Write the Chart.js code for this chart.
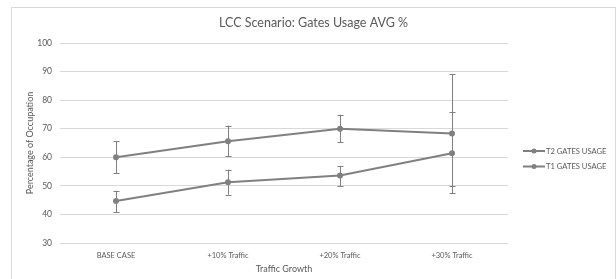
<!DOCTYPE html>
<html>
<head>
<meta charset="utf-8">
<script src="https://cdn.jsdelivr.net/npm/chart.js@4/dist/chart.umd.min.js"></script>
<style>
  html, body { margin: 0; padding: 0; background: #fff; overflow: hidden; }
  #frame { position: absolute; left: 11px; top: 7px; width: 603px; height: 290px; border: 1px solid #d9d9d9; background: #fff; }
  #c { display: block; }
</style>
</head>
<body>
<div id="frame"><canvas id="c" width="603" height="271"></canvas></div>
<script>
const categories = ["BASE CASE", "+10% Traffic", "+20% Traffic", "+30% Traffic"];
const t2Values = [60.0, 65.6, 70.0, 68.3];
const t2ErrPlus = [5.6, 5.5, 4.9, 20.9];
const t2ErrMinus = [5.5, 5.3, 4.7, 20.9];
const t1Values = [44.7, 51.3, 53.6, 61.4];
const t1ErrPlus = [3.6, 4.4, 3.4, 14.6];
const t1ErrMinus = [4.0, 4.4, 3.6, 11.3];
const seriesNames = ["T2 GATES USAGE", "T1 GATES USAGE"];
const yTicks = [30, 40, 50, 60, 70, 80, 90, 100];

const FONT = "Lato, 'Open Sans', sans-serif";
const LINE = "#808080";
const TEXT = "#595959";

const errorBarPlugin = {
  id: "errorBars",
  afterDatasetsDraw(chart) {
    const ctx = chart.ctx;
    const y = chart.scales.y;
    ctx.save();
    ctx.strokeStyle = LINE;
    ctx.lineWidth = 1;
    chart.data.datasets.forEach((ds, di) => {
      const meta = chart.getDatasetMeta(di);
      meta.data.forEach((pt, i) => {
        const v = ds.data[i];
        const top = y.getPixelForValue(v + ds.errPlus[i]);
        const bot = y.getPixelForValue(v - ds.errMinus[i]);
        const x = Math.round(pt.x) + 0.5;
        ctx.beginPath();
        ctx.moveTo(x, top); ctx.lineTo(x, bot);
        ctx.moveTo(x - 3, Math.round(top) + 0.5); ctx.lineTo(x + 3, Math.round(top) + 0.5);
        ctx.moveTo(x - 3, Math.round(bot) + 0.5); ctx.lineTo(x + 3, Math.round(bot) + 0.5);
        ctx.stroke();
      });
    });
    ctx.restore();
  }
};

const legendPlugin = {
  id: "sideLegend",
  afterDraw(chart) {
    const ctx = chart.ctx;
    const area = chart.chartArea;
    ctx.save();
    ctx.font = "7.6px " + FONT;
    ctx.textBaseline = "middle";
    chart.data.datasets.forEach((ds, i) => {
      const lx = area.right + 15;
      const ly = Math.round((area.top + area.bottom) / 2) + 8 + i * 15.5;
      ctx.strokeStyle = LINE;
      ctx.lineWidth = 2;
      ctx.beginPath();
      ctx.moveTo(lx, ly); ctx.lineTo(lx + 22, ly);
      ctx.stroke();
      ctx.fillStyle = LINE;
      ctx.beginPath();
      ctx.arc(lx + 11, ly, 2.5, 0, Math.PI * 2);
      ctx.fill();
      ctx.fillStyle = TEXT;
      ctx.fillText(ds.label, lx + 23, ly + 0.5);
    });
    ctx.restore();
  }
};

new Chart(document.getElementById("c"), {
  type: "line",
  data: {
    labels: categories,
    datasets: [
      { label: seriesNames[0], data: t2Values, errPlus: t2ErrPlus, errMinus: t2ErrMinus,
        borderColor: LINE, backgroundColor: LINE, borderWidth: 2, pointRadius: 3, pointBackgroundColor: LINE, pointBorderWidth: 0, tension: 0 },
      { label: seriesNames[1], data: t1Values, errPlus: t1ErrPlus, errMinus: t1ErrMinus,
        borderColor: LINE, backgroundColor: LINE, borderWidth: 2, pointRadius: 3, pointBackgroundColor: LINE, pointBorderWidth: 0, tension: 0 }
    ]
  },
  options: {
    responsive: false,
    animation: false,
    layout: { padding: 0 },
    plugins: {
      legend: { display: false },
      tooltip: { enabled: false },
      title: {
        display: true,
        text: "LCC Scenario: Gates Usage AVG %",
        color: TEXT,
        font: { family: FONT, size: 12.5, weight: "normal" },
        padding: { top: 7, bottom: 13 }
      }
    },
    scales: {
      x: {
        offset: true,
        afterFit(axis) { axis.height = 36; },
        grid: { display: false, drawTicks: false },
        border: { display: false },
        ticks: { color: TEXT, font: { family: FONT, size: 7.5 }, padding: 8, maxRotation: 0 },
        title: { display: true, text: "Traffic Growth", color: TEXT, font: { family: FONT, size: 9 }, padding: { top: 2, bottom: 5 } }
      },
      y: {
        min: 30, max: 100,
        afterBuildTicks(axis) { axis.ticks = yTicks.map(v => ({ value: v })); },
        afterFit(axis) { axis.width = 48; },
        grid: { color: "#d9d9d9", lineWidth: 1, drawTicks: false },
        border: { display: false },
        ticks: { color: TEXT, font: { family: FONT, size: 8.5 }, padding: 8 },
        title: { display: true, text: "Percentage of Occupation", color: TEXT, font: { family: FONT, size: 9 }, padding: { top: 13, bottom: 4 } }
      },
      yRight: {
        position: "right",
        display: true,
        afterFit(axis) { axis.width = 107; },
        grid: { display: false, drawTicks: false },
        border: { display: false },
        ticks: { display: false }
      }
    }
  },
  plugins: [errorBarPlugin, legendPlugin]
});
</script>
</body>
</html>
